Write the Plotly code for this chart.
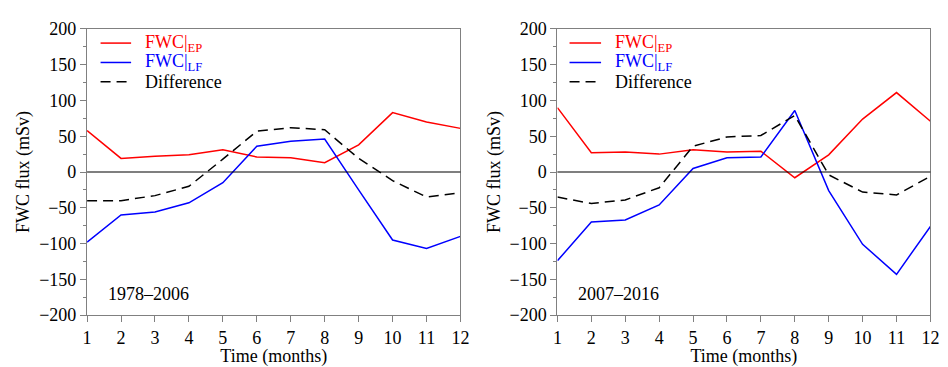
import plotly.graph_objects as go

months = list(range(1, 13))

ep_1978 = [58, 19, 22, 24, 31, 21, 20, 13, 38, 83, 70, 61]
lf_1978 = [-98, -60, -56, -43, -15, 36, 43, 46, -25, -95, -107, -90]
diff_1978 = [-40, -40, -33, -20, 18, 57, 62, 59, 19, -12, -35, -29]

ep_2007 = [90, 27, 28, 25, 31, 28, 29, -8, 24, 74, 111, 71]
lf_2007 = [-124, -70, -67, -46, 5, 20, 21, 86, -26, -101, -143, -76]
diff_2007 = [-35, -44, -39, -22, 36, 49, 51, 79, -4, -28, -32, -6]

panel_labels = ["1978\u20132006", "2007\u20132016"]
y_ticks = [-200, -150, -100, -50, 0, 50, 100, 150, 200]
legend_names = ["FWC|<sub>EP</sub>", "FWC|<sub>LF</sub>", "Difference"]

FONT = "Liberation Serif"
FS = 18
W, H = 948, 367

colors = ["#ff0000", "#0000ff", "#000000"]
dashes = ["solid", "solid", "10px,6px"]

fig = go.Figure()

for p, series in enumerate([(ep_1978, lf_1978, diff_1978), (ep_2007, lf_2007, diff_2007)]):
    ax = "" if p == 0 else "2"
    for s, vals in enumerate(series):
        fig.add_trace(go.Scatter(
            x=months, y=vals, mode="lines", name=legend_names[s],
            line=dict(color=colors[s], width=1.5, dash=dashes[s]),
            xaxis="x" + ax, yaxis="y" + ax, showlegend=False,
        ))

dom_y = [1 - 322.7 / H, 1 - 20 / H]
doms_x = [[83.3 / W, 462.3 / W], [560.7 / W, 939.3 / W]]

axis_common = dict(
    showline=True, linecolor="#808080", linewidth=1.2, mirror=True,
    ticks="outside", ticklen=6, tickcolor="#808080", tickwidth=1,
    showgrid=False, zeroline=False,
    tickfont=dict(family=FONT, size=FS, color="black"),
)

layout = dict(
    width=W, height=H, margin=dict(l=0, r=0, t=0, b=0),
    plot_bgcolor="white", paper_bgcolor="white",
    font=dict(family=FONT, size=FS, color="black"),
    showlegend=False,
)

for p in range(2):
    ax = "" if p == 0 else "2"
    layout["xaxis" + ax] = dict(
        axis_common, domain=doms_x[p], range=[1, 12], tickvals=months,
        anchor="y" + ax, ticklabelstandoff=0,
        title=dict(text="Time (months)", font=dict(family=FONT, size=FS), standoff=0),
    )
    layout["yaxis" + ax] = dict(
        axis_common, domain=dom_y, range=[-200, 200], tickvals=y_ticks,
        ticktext=[str(v).replace("-", "\u2212") for v in y_ticks],
        minor=dict(ticks="outside", ticklen=3, tickcolor="#808080", dtick=25, tick0=0),
        anchor="x" + ax, ticklabelstandoff=0,
        title=dict(text="FWC flux (mSv)", font=dict(family=FONT, size=FS), standoff=4),
    )

fig.update_layout(**layout)

# zero lines and panel labels
for p in range(2):
    ax = "" if p == 0 else "2"
    fig.add_shape(type="line", xref="x" + ax + " domain", yref="y" + ax,
                  x0=0, x1=1, y0=0, y1=0, line=dict(color="black", width=1.2))
    fig.add_annotation(text=panel_labels[p], xref="x" + ax + " domain", yref="y" + ax,
                       x=0.05, y=-170, xanchor="left", yanchor="middle", showarrow=False,
                       font=dict(family=FONT, size=FS, color="black"))

# manual legends (pixel layout converted to paper coords)
leg_line_x = [(97, 128), (573, 605)]
leg_text_x = [140, 617]
leg_rows_y = [35, 55.5, 76]
for p in range(2):
    for s in range(3):
        yy = 1 - leg_rows_y[s] / H
        fig.add_shape(type="line", xref="paper", yref="paper",
                      x0=leg_line_x[p][0] / W, x1=leg_line_x[p][1] / W, y0=yy, y1=yy,
                      line=dict(color=colors[s], width=1.5, dash=dashes[s]))
        fig.add_annotation(text=legend_names[s], xref="paper", yref="paper",
                           x=leg_text_x[p] / W, y=yy, xanchor="left", yanchor="middle",
                           showarrow=False, font=dict(family=FONT, size=FS, color=colors[s]))

fig.write_html("out.html")
